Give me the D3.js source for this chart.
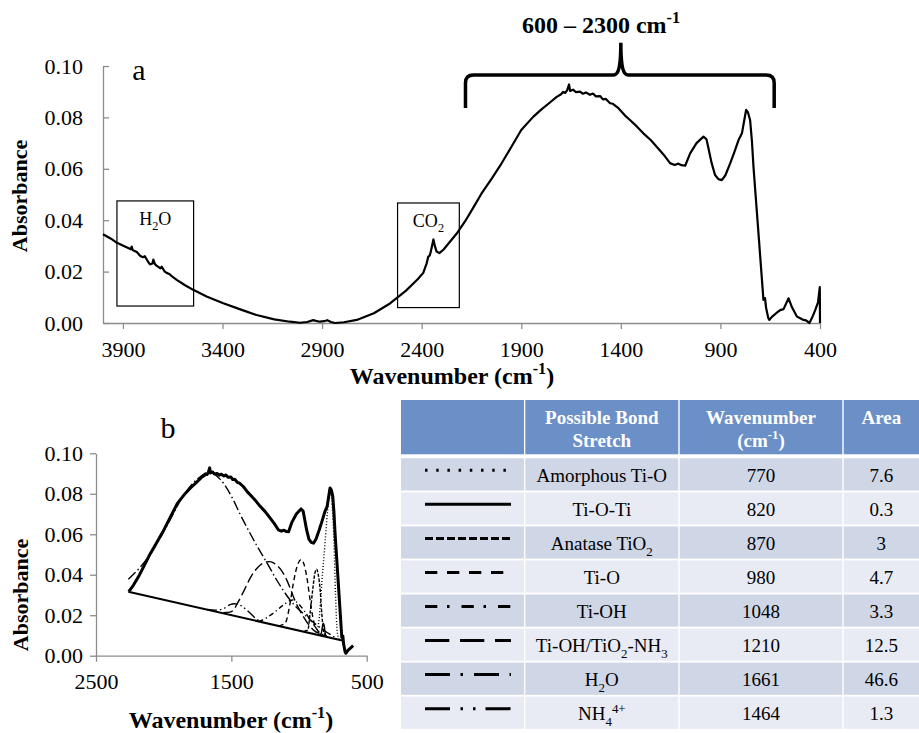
<!DOCTYPE html>
<html>
<head>
<meta charset="utf-8">
<script src="https://cdn.jsdelivr.net/npm/d3@7"></script>
<style>
  body { margin: 0; background: #fff; }
  svg { font-family: "Liberation Serif", "Times New Roman", serif; }
</style>
</head>
<body>
<svg id="chart" width="919" height="733"></svg>
<script>
// FTIR spectrum, [wavenumber, absorbance]
const spectrum = [
  [4000, 0.0345], [3960, 0.0328], [3930, 0.0312], [3890, 0.0298], [3860, 0.0287], [3856, 0.0297],
  [3850, 0.0283], [3830, 0.0276], [3814, 0.0262], [3800, 0.0256], [3790, 0.0260], [3775, 0.0240],
  [3764, 0.0228], [3752, 0.0232], [3747, 0.0247], [3740, 0.0230], [3730, 0.0222], [3712, 0.0213],
  [3705, 0.0219], [3690, 0.0200], [3680, 0.0195], [3665, 0.0190], [3655, 0.0182], [3630, 0.0168],
  [3590, 0.0148], [3547, 0.0129], [3480, 0.0103], [3396, 0.0077], [3300, 0.0050], [3229, 0.0031],
  [3140, 0.0014], [3061, 0.0005], [3011, 0.0001], [2975, 0.0004], [2944, 0.0011], [2925, 0.0007],
  [2910, 0.0005], [2890, 0.0007], [2874, 0.0011], [2855, 0.0004], [2835, 0.0000], [2790, 0.0003],
  [2726, 0.0012], [2640, 0.0038], [2559, 0.0076], [2480, 0.0125], [2420, 0.0170], [2392, 0.0195],
  [2375, 0.0232], [2367, 0.0258], [2360, 0.0262], [2355, 0.0275], [2348, 0.0300], [2341, 0.0325],
  [2334, 0.0300], [2325, 0.0278], [2311, 0.0272], [2290, 0.0286], [2258, 0.0316], [2224, 0.0348],
  [2180, 0.0398], [2140, 0.0450], [2100, 0.0503], [2050, 0.0560], [2006, 0.0612], [1950, 0.0685],
  [1900, 0.0751], [1839, 0.0803], [1800, 0.0830], [1756, 0.0858], [1722, 0.0880], [1700, 0.0890],
  [1690, 0.0899], [1680, 0.0895], [1670, 0.0905], [1660, 0.0928], [1655, 0.0903], [1640, 0.0908],
  [1625, 0.0898], [1605, 0.0900], [1590, 0.0892], [1575, 0.0897], [1555, 0.0888], [1540, 0.0893],
  [1525, 0.0882], [1504, 0.0883], [1490, 0.0870], [1475, 0.0872], [1454, 0.0855], [1440, 0.0853],
  [1412, 0.0836], [1380, 0.0808], [1354, 0.0790], [1320, 0.0765], [1287, 0.0738], [1250, 0.0712],
  [1220, 0.0686], [1185, 0.0655], [1153, 0.0622], [1130, 0.0615], [1111, 0.0620], [1095, 0.0614],
  [1077, 0.0612], [1052, 0.0660], [1020, 0.0700], [985, 0.0725], [970, 0.0715], [960, 0.0680],
  [945, 0.0625], [927, 0.0576], [910, 0.0560], [893, 0.0556], [875, 0.0575], [851, 0.0621],
  [830, 0.0665], [809, 0.0712], [792, 0.0738], [780, 0.0790], [771, 0.0829], [762, 0.0820],
  [751, 0.0790], [742, 0.0710], [734, 0.0608], [709, 0.0350], [684, 0.0090], [676, 0.0097],
  [671, 0.0060], [660, 0.0020], [654, 0.0012], [640, 0.0025], [620, 0.0038], [600, 0.0050],
  [583, 0.0054], [558, 0.0096], [540, 0.0060], [516, 0.0025], [483, 0.0012], [470, 0.0010],
  [453, 0.0000], [440, 0.0020], [424, 0.0050], [410, 0.0080], [401, 0.0140], [400, 0.0000]
];

// peak fit (panel b)
const fitBaseline = [[2261, 0.0316], [672, 0.0074]];
const amorphousTiO = [[900, 0.0109], [869, 0.0127], [850, 0.0190], [832, 0.0358], [808, 0.0555],
  [791, 0.0703], [770, 0.0815], [755, 0.0740], [742, 0.0560], [730, 0.0300], [718, 0.0120], [705, 0.0082]];
const tiOTi = [[850, 0.0101], [835, 0.0112], [826, 0.0148], [820, 0.0160], [814, 0.0148], [805, 0.0105], [790, 0.0091]];
const anataseTiO2 = [[960, 0.0122], [935, 0.0127], [918, 0.0210], [899, 0.0325], [882, 0.0410], [870, 0.0427],
  [858, 0.0400], [844, 0.0325], [832, 0.0210], [820, 0.0127], [800, 0.0095]];
const tiO = [[1150, 0.0147], [1103, 0.0160], [1066, 0.0259], [1042, 0.0358], [1010, 0.0450], [985, 0.0475],
  [960, 0.0445], [943, 0.0390], [918, 0.0275], [894, 0.0176], [857, 0.0119], [830, 0.0096]];
const tiOH = [[1300, 0.0170], [1288, 0.0172], [1190, 0.0210], [1116, 0.0250], [1066, 0.0272], [1048, 0.0275],
  [1010, 0.0260], [960, 0.0220], [910, 0.0170], [860, 0.0125], [810, 0.0095]];
const tiOHNH3 = [[1560, 0.0212], [1510, 0.0215], [1485, 0.0225], [1450, 0.0265], [1400, 0.0330], [1362, 0.0382],
  [1300, 0.0440], [1250, 0.0462], [1215, 0.0465], [1180, 0.0455], [1116, 0.0407], [1066, 0.0335],
  [1042, 0.0292], [968, 0.0193], [894, 0.0127], [820, 0.0102], [790, 0.0092]];
const h2o = [[2261, 0.0378], [2176, 0.0435], [2076, 0.0525], [1978, 0.0640], [1855, 0.0790], [1756, 0.0870],
  [1661, 0.0905], [1580, 0.0870], [1485, 0.0769], [1436, 0.0700], [1362, 0.0605], [1300, 0.0530],
  [1238, 0.0460], [1165, 0.0374], [1066, 0.0275], [943, 0.0193], [820, 0.0127], [720, 0.0085]];
const nh4 = [[1680, 0.0228], [1620, 0.0225], [1560, 0.0232], [1510, 0.0252], [1480, 0.0257], [1436, 0.0250],
  [1380, 0.0222], [1330, 0.0190], [1288, 0.0170], [1250, 0.0160]];

// table
const bondNames = ["Amorphous Ti-O", "Ti-O-Ti", "Anatase TiO_{2}", "Ti-O", "Ti-OH",
  "Ti-OH/TiO_{2}-NH_{3}", "H_{2}O", "NH_{4}^{4+}"];
const bondWavenumbers = ["770", "820", "870", "980", "1048", "1210", "1661", "1464"];
const bondAreas = ["7.6", "0.3", "3", "4.7", "3.3", "12.5", "46.6", "1.3"];
const bondFits = [amorphousTiO, tiOTi, anataseTiO2, tiO, tiOH, tiOHNH3, h2o, nh4];

// ticks and annotations
const xTicksA = [3900, 3400, 2900, 2400, 1900, 1400, 900, 400];
const yTicks = [0, 0.02, 0.04, 0.06, 0.08, 0.10];
const xTicksB = [2500, 1500, 500];
const boxes = [
  { label: "H_{2}O", wn: [3930, 3545], abs: [0.0475, 0.0066] },
  { label: "CO_{2}", wn: [2521, 2211], abs: [0.0467, 0.0060] }
];

// line styles for the fitted bands (panel b, then table)
const fitDash = ["1,2", null, "3.5,1.5", "5,3.5", "5,3,1.2,3", "10,4", "10,3,1.5,3", "10,3,1.5,3,1.5,3"];
const keyDash = ["2.5,8.7", null, "8,3", "12.3,9.7", "12.3,9.7,2.5,12", "24.3,10.7", "25,10.5,2.5,11", "25,10.5,2.5,10,2.5,10"];

const svg = d3.select("#chart");

// text with _{sub} and ^{sup}
function rich(text, str, size) {
  let shift = 0;
  str.split(/(_\{[^}]*\}|\^\{[^}]*\})/).filter((s) => s).forEach((s) => {
    let target = 0, t = s, small = false;
    if (s.startsWith("_{")) { target = 0.3; t = s.slice(2, -1); small = true; }
    else if (s.startsWith("^{")) { target = -0.4; t = s.slice(2, -1); small = true; }
    const ts = text.append("tspan").text(t).attr("dy", ((target - shift) * size).toFixed(2));
    if (small) ts.attr("font-size", size * 0.68);
    shift = target;
  });
  return text;
}

function styleAxis(g, size) {
  g.attr("font-family", null).attr("font-size", size);
  g.selectAll(".domain").attr("stroke", "#8c8c8c").attr("stroke-width", 1.3);
  g.selectAll(".tick line").attr("stroke", "#8c8c8c").attr("stroke-width", 1.3);
  g.selectAll(".tick text").attr("fill", "#000");
}

// ---------- panel a ----------
const xA = d3.scaleLinear().domain([4000, 400]).range([103, 820]);
const yA = d3.scaleLinear().domain([0, 0.1]).range([323, 66]);

svg.append("g")
  .attr("transform", "translate(103,0)")
  .call(d3.axisLeft(yA).tickValues(yTicks).tickFormat(d3.format(".2f"))
    .tickSizeInner(-6).tickSizeOuter(0).tickPadding(20))
  .call(styleAxis, 22);

svg.append("g")
  .attr("transform", "translate(0,323)")
  .call(d3.axisBottom(xA).tickValues(xTicksA).tickFormat(d3.format("d"))
    .tickSizeInner(6).tickSizeOuter(0).tickPadding(12))
  .call(styleAxis, 22);

svg.append("path")
  .datum(spectrum)
  .attr("fill", "none")
  .attr("stroke", "#000")
  .attr("stroke-width", 2.2)
  .attr("stroke-linejoin", "round")
  .attr("d", d3.line().x((d) => xA(d[0])).y((d) => yA(d[1])));

boxes.forEach((b) => {
  svg.append("rect")
    .attr("x", xA(b.wn[0]))
    .attr("y", yA(b.abs[0]))
    .attr("width", xA(b.wn[1]) - xA(b.wn[0]))
    .attr("height", yA(b.abs[1]) - yA(b.abs[0]))
    .attr("fill", "none")
    .attr("stroke", "#000")
    .attr("stroke-width", 1.2);
  rich(svg.append("text")
    .attr("x", (xA(b.wn[0]) + xA(b.wn[1])) / 2)
    .attr("y", yA(b.abs[0]) + 24)
    .attr("text-anchor", "middle")
    .attr("font-size", 18), b.label, 18);
});

// bracket over 600 - 2300
const bl = xA(2180), br = xA(630), bc = xA(1400);
const bh = yA(0.0965), be = yA(0.0837), bp = yA(0.109);
svg.append("path")
  .attr("fill", "none")
  .attr("stroke", "#000")
  .attr("stroke-width", 3.5)
  .attr("d", `M${bl},${be} L${bl},${bh + 8} Q${bl},${bh} ${bl + 8},${bh} L${bc - 7},${bh}
    C${bc - 2},${bh} ${bc},${bh - 10} ${bc},${bp} C${bc},${bh - 10} ${bc + 2},${bh} ${bc + 7},${bh}
    L${br - 8},${bh} Q${br},${bh} ${br},${bh + 8} L${br},${be}`);

rich(svg.append("text")
  .attr("x", 601).attr("y", 33)
  .attr("text-anchor", "middle")
  .attr("font-weight", "bold")
  .attr("font-size", 24), "600 – 2300 cm^{-1}", 24);

svg.append("text").attr("x", 139).attr("y", 80).attr("text-anchor", "middle")
  .attr("font-size", 30).text("a");

svg.append("text")
  .attr("transform", "translate(27,196) rotate(-90)")
  .attr("text-anchor", "middle")
  .attr("font-weight", "bold")
  .attr("font-size", 22)
  .text("Absorbance");

rich(svg.append("text")
  .attr("x", 452).attr("y", 384)
  .attr("text-anchor", "middle")
  .attr("font-weight", "bold")
  .attr("font-size", 24), "Wavenumber (cm^{-1})", 24);

// ---------- panel b ----------
const xB = d3.scaleLinear().domain([2500, 500]).range([96, 366.7]);
const yB = d3.scaleLinear().domain([0, 0.1]).range([655.7, 453.3]);

svg.append("g")
  .attr("transform", "translate(96,0)")
  .call(d3.axisLeft(yB).tickValues(yTicks).tickFormat(d3.format(".2f"))
    .tickSizeInner(6).tickSizeOuter(0).tickPadding(7))
  .call(styleAxis, 22);

svg.append("g")
  .attr("transform", "translate(0,655.7)")
  .call(d3.axisBottom(xB).tickValues(xTicksB).tickFormat(d3.format("d"))
    .tickSizeInner(6).tickSizeOuter(0).tickPadding(12))
  .call(styleAxis, 22);

const fitLine = d3.line().curve(d3.curveMonotoneX).x((d) => xB(d[0])).y((d) => yB(d[1]));

svg.append("g")
  .selectAll("path")
  .data(bondFits)
  .enter()
  .append("path")
  .attr("fill", "none")
  .attr("stroke", "#000")
  .attr("stroke-width", 1.4)
  .attr("stroke-dasharray", (d, i) => fitDash[i])
  .attr("d", fitLine);

svg.append("path")
  .datum(fitBaseline)
  .attr("fill", "none")
  .attr("stroke", "#000")
  .attr("stroke-width", 2)
  .attr("d", fitLine);

svg.append("path")
  .datum(spectrum.filter((d) => d[0] <= 2261 && d[0] >= 598))
  .attr("fill", "none")
  .attr("stroke", "#000")
  .attr("stroke-width", 3)
  .attr("stroke-linejoin", "round")
  .attr("d", d3.line().x((d) => xB(d[0])).y((d) => yB(d[1])));

svg.append("text").attr("x", 168).attr("y", 438).attr("text-anchor", "middle")
  .attr("font-size", 30).text("b");

svg.append("text")
  .attr("transform", "translate(28,595) rotate(-90)")
  .attr("text-anchor", "middle")
  .attr("font-weight", "bold")
  .attr("font-size", 22)
  .text("Absorbance");

rich(svg.append("text")
  .attr("x", 231).attr("y", 728)
  .attr("text-anchor", "middle")
  .attr("font-weight", "bold")
  .attr("font-size", 24), "Wavenumber (cm^{-1})", 24);

// ---------- table ----------
const colX = [401, 525.3, 679.7, 843.7];
const colW = [123, 153, 162.6, 75.3];
const rowTop = (i) => 458.3 + i * 34.05;

colX.forEach((cx, j) => {
  svg.append("rect").attr("x", cx).attr("y", 400).attr("width", colW[j]).attr("height", 54.3)
    .attr("fill", "#6b8fc7");
});

const header = [null, ["Possible Bond", "Stretch"], ["Wavenumber", "(cm^{-1})"], ["Area"]];
header.forEach((lines, j) => {
  if (!lines) return;
  lines.forEach((ln, k) => {
    rich(svg.append("text")
      .attr("x", colX[j] + colW[j] / 2)
      .attr("y", 424.3 + k * 22.4)
      .attr("text-anchor", "middle")
      .attr("font-weight", "bold")
      .attr("fill", "#fff")
      .attr("font-size", 19), ln, 19);
  });
});

bondNames.forEach((name, i) => {
  const y0 = rowTop(i);
  colX.forEach((cx, j) => {
    svg.append("rect").attr("x", cx).attr("y", y0).attr("width", colW[j]).attr("height", 32.2)
      .attr("fill", i % 2 === 0 ? "#cfd6e6" : "#e8ebf3");
  });
  svg.append("line")
    .attr("x1", 425).attr("x2", 511)
    .attr("y1", y0 + 12).attr("y2", y0 + 12)
    .attr("stroke", "#000")
    .attr("stroke-width", 3)
    .attr("stroke-dasharray", keyDash[i]);
  const cells = [name, bondWavenumbers[i], bondAreas[i]];
  cells.forEach((c, k) => {
    rich(svg.append("text")
      .attr("x", colX[k + 1] + colW[k + 1] / 2)
      .attr("y", y0 + 23.5)
      .attr("text-anchor", "middle")
      .attr("font-size", 19), c, 19);
  });
});
</script>
</body>
</html>
